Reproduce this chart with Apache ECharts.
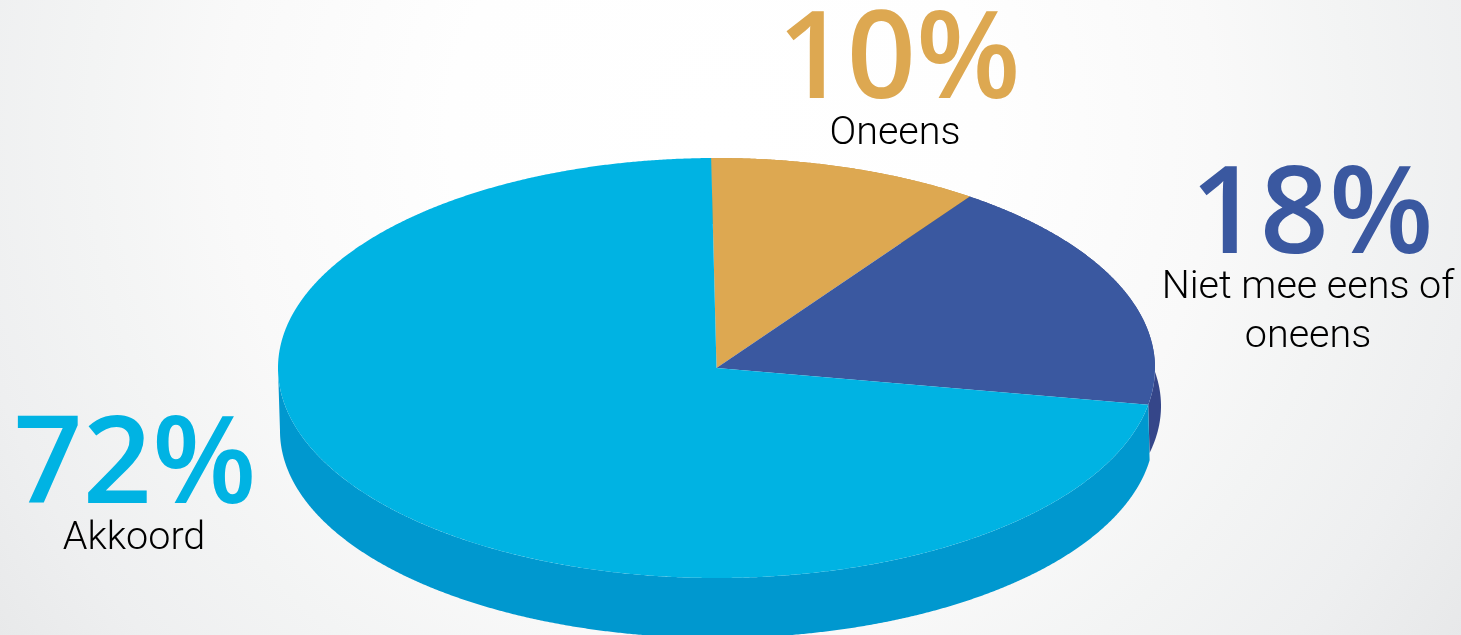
<!DOCTYPE html>
<html>
<head>
<meta charset="utf-8">
<style>html,body{margin:0;padding:0;background:#fff}#chart{width:1461px;height:635px}</style>
<script src="https://cdn.jsdelivr.net/npm/echarts@6/dist/echarts.min.js"></script>
</head>
<body>
<div id="chart"></div>
<script>
// Survey answers, clockwise from the top of the disc
const categories = ['Oneens', 'Niet mee eens of\noneens', 'Akkoord'];
const shares = [10, 18, 72];

// Slice styling
const faceColors = ['#DDA851', '#3A58A0', '#00B3E3'];
const wallColors = ['#C9953F', '#354689', '#0098CF'];

// Disc geometry in pixels
const DISC = { cx: 716.5, cy: 368, rx: 438.5, ry: 210, startDeg: -0.7 };
const wallRim = [
  { cx: 717, cy: 431, rx: 437, ry: 207 },
  { cx: 722, cy: 406, rx: 439, ry: 207 },
  { cx: 717, cy: 431, rx: 437, ry: 207 }
];
// Lower rim runs a little past each slice so neighbouring walls join up
const rimStartExtra = [0, 0, 2];
const rimEndExtra = [0, 3, 0];
const WALL_LAST_DEG = 270;

// Text anchors: centre x, vertical centre of the percentage, top of the caption
const labelAnchors = [
  { x: 899, big: 64, small: 110 },
  { x: 1312, big: 219, small: 264 },
  { x: 135, big: 468.5, small: 515 }
];
const captionOffsetX = [-4, -4, -1];

const BIG_FONT = '600 121px "Open Sans"';
const SMALL_FONT = '300 39.5px Roboto';
const total = shares.reduce((a, b) => a + b, 0);

function sliceSpan(index, value) {
  let before = 0;
  for (let i = 0; i < index; i++) before += shares[i];
  const from = DISC.startDeg + (before / total) * 360;
  return [from, from + (value / total) * 360];
}

function rimPoint(e, deg) {
  const t = deg * Math.PI / 180;
  return [e.cx + e.rx * Math.sin(t), e.cy - e.ry * Math.cos(t)];
}

function arc(e, a, b) {
  const pts = [];
  const steps = Math.max(2, Math.ceil(Math.abs(b - a) * 4));
  for (let i = 0; i <= steps; i++) pts.push(rimPoint(e, a + (b - a) * i / steps));
  return pts;
}

const sliceData = shares.map((v, i) => ({ value: [v], name: categories[i] }));

const option = {
  animation: false,
  backgroundColor: {
    type: 'radial', x: 720, y: 130, r: 900, global: true,
    colorStops: [
      { offset: 0, color: '#FFFFFF' },
      { offset: 0.3, color: '#FEFEFE' },
      { offset: 0.55, color: '#F9F9F9' },
      { offset: 0.7, color: '#F3F4F4' },
      { offset: 0.85, color: '#EEEFF0' },
      { offset: 1, color: '#E7E8E9' }
    ]
  },
  series: [
    {
      // Side wall of the disc
      type: 'custom', coordinateSystem: 'none', silent: true, z: 1,
      data: sliceData,
      renderItem(params, api) {
        const i = params.dataIndex;
        const [a, b] = sliceSpan(i, api.value(0));
        const end = Math.min(b, WALL_LAST_DEG);
        const top = arc(DISC, a, end);
        const rim = arc(wallRim[i], end + rimEndExtra[i], a - rimStartExtra[i]);
        return {
          type: 'polygon',
          shape: { points: top.concat(rim) },
          style: { fill: wallColors[i] }
        };
      }
    },
    {
      // Top face of the disc
      type: 'custom', coordinateSystem: 'none', silent: true, z: 2,
      data: sliceData,
      renderItem(params, api) {
        const i = params.dataIndex;
        const [a, b] = sliceSpan(i, api.value(0));
        return {
          type: 'polygon',
          shape: { points: [[DISC.cx, DISC.cy]].concat(arc(DISC, a, b)) },
          style: { fill: faceColors[i] }
        };
      }
    },
    {
      // Percentages and captions
      type: 'custom', coordinateSystem: 'none', silent: true, z: 3,
      data: sliceData,
      renderItem(params, api) {
        const i = params.dataIndex;
        const p = labelAnchors[i];
        return {
          type: 'group',
          children: [
            {
              type: 'text',
              style: {
                text: api.value(0) + '%', x: p.x, y: p.big,
                align: 'center', verticalAlign: 'middle',
                font: BIG_FONT, fill: faceColors[i]
              }
            },
            {
              type: 'text',
              style: {
                text: categories[i], x: p.x + captionOffsetX[i], y: p.small,
                align: 'center', verticalAlign: 'top', lineHeight: 49,
                font: SMALL_FONT, fill: '#000000'
              }
            }
          ]
        };
      }
    }
  ]
};

echarts.init(document.getElementById('chart'), null, { renderer: 'canvas' }).setOption(option);
</script>
</body>
</html>
